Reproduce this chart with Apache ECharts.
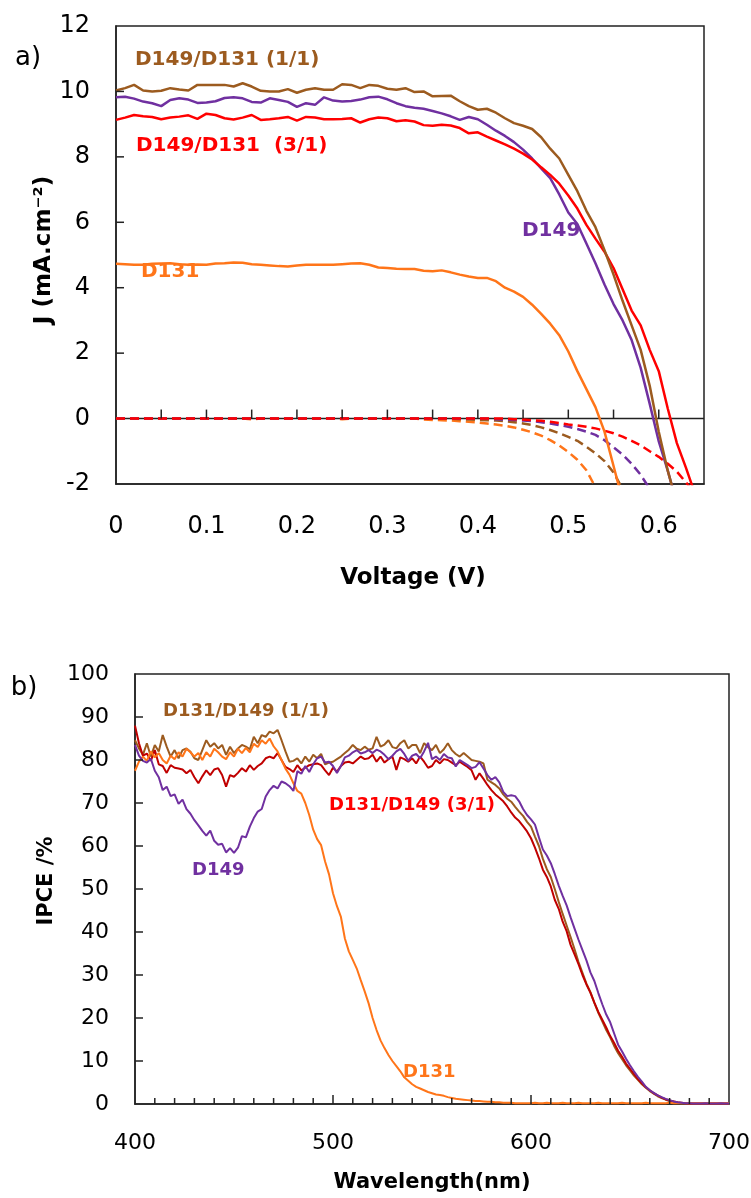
<!DOCTYPE html>
<html>
<head>
<meta charset="utf-8">
<script src="https://cdn.jsdelivr.net/npm/echarts@6/dist/echarts.min.js"></script>
<style>
  html,body{margin:0;padding:0;background:#fff;}
  #main{width:751px;height:1198px;}
</style>
</head>
<body>
<div id="main"></div>
<script>
// a) J-V 曲线, 电压 0 ~ 0.65 V, 步长 0.01
var volt = [0,0.01,0.02,0.03,0.04,0.05,0.06,0.07,0.08,0.09,
  0.10,0.11,0.12,0.13,0.14,0.15,0.16,0.17,0.18,0.19,
  0.20,0.21,0.22,0.23,0.24,0.25,0.26,0.27,0.28,0.29,
  0.30,0.31,0.32,0.33,0.34,0.35,0.36,0.37,0.38,0.39,
  0.40,0.41,0.42,0.43,0.44,0.45,0.46,0.47,0.48,0.49,
  0.50,0.51,0.52,0.53,0.54,0.55,0.56,0.57,0.58,0.59,
  0.60,0.61,0.62,0.63,0.64,0.65]

// 光照下 (实线)
var jMix11 = [10.03,10.10,10.20,10.03,10.00,10.02,10.10,10.06,10.03,10.20,
  10.20,10.20,10.20,10.15,10.25,10.15,10.02,10.00,10.00,10.07,
  9.96,10.05,10.10,10.05,10.05,10.22,10.20,10.10,10.20,10.17,
  10.08,10.05,10.10,9.98,10.00,9.85,9.86,9.87,9.70,9.55,
  9.44,9.47,9.35,9.18,9.03,8.95,8.85,8.60,8.25,7.95,
  7.45,6.95,6.35,5.85,5.15,4.40,3.60,2.85,2.10,1.00,
  -0.40,-1.60,-2.60]
var jD149 = [9.82,9.84,9.78,9.69,9.64,9.55,9.74,9.79,9.75,9.65,
  9.66,9.70,9.80,9.82,9.79,9.68,9.66,9.79,9.74,9.68,
  9.53,9.64,9.59,9.82,9.72,9.69,9.71,9.75,9.82,9.84,
  9.76,9.64,9.55,9.50,9.47,9.40,9.33,9.24,9.13,9.22,
  9.15,8.98,8.80,8.64,8.45,8.22,7.95,7.65,7.35,6.85,
  6.30,5.95,5.35,4.75,4.10,3.50,3.00,2.40,1.55,0.45,
  -0.70,-1.60,-2.60]
var jMix31 = [9.13,9.20,9.28,9.24,9.22,9.15,9.20,9.23,9.27,9.16,
  9.32,9.28,9.18,9.14,9.20,9.28,9.13,9.15,9.18,9.22,
  9.11,9.22,9.20,9.15,9.15,9.16,9.18,9.05,9.15,9.20,
  9.18,9.09,9.12,9.08,8.97,8.95,8.98,8.96,8.88,8.72,
  8.75,8.62,8.50,8.38,8.25,8.10,7.92,7.68,7.45,7.18,
  6.82,6.42,5.92,5.50,5.10,4.60,3.95,3.30,2.85,2.10,
  1.45,0.30,-0.75,-1.50,-2.30]
var jD131 = [4.73,4.72,4.70,4.70,4.73,4.74,4.75,4.72,4.70,4.71,
  4.70,4.74,4.75,4.77,4.76,4.72,4.70,4.68,4.66,4.65,
  4.68,4.70,4.70,4.70,4.70,4.72,4.74,4.75,4.70,4.62,
  4.60,4.58,4.57,4.57,4.52,4.50,4.53,4.47,4.40,4.34,
  4.30,4.30,4.20,4.00,3.88,3.72,3.48,3.20,2.90,2.55,
  2.05,1.45,0.90,0.35,-0.40,-1.45,-2.50]

// 暗态 (虚线)
var dMix11 = [0,0,0,0,0,0,0,0,0,0,
  0,0,0,0,0,0,0,0,0,0,
  0,0,0,0,0,0,0,0,0,0,
  0,0,0,0,0,0,0,0,-0.02,-0.03,
  -0.04,-0.05,-0.06,-0.08,-0.11,-0.15,-0.20,-0.27,-0.35,-0.45,
  -0.56,-0.68,-0.86,-1.06,-1.30,-1.65,-2.15]
var dD149 = [0,0,0,0,0,0,0,0,0,0,
  0,0,0,0,0,0,0,0,0,0,
  0,0,0,0,0,0,0,0,0,0,
  0,0,0,0,0,0,0,0,0,0,
  0,0,-0.02,-0.03,-0.04,-0.06,-0.08,-0.11,-0.15,-0.20,
  -0.25,-0.32,-0.40,-0.50,-0.66,-0.88,-1.10,-1.38,-1.72,-2.15]
var dMix31 = [0,0,0,0,0,0,0,0,0,0,
  0,0,0,0,0,0,0,0,0,0,
  0,0,0,0,0,0,0,0,0,0,
  0,0,0,0,0,0,0,0,0,0,
  0,0,0,0,-0.02,-0.03,-0.05,-0.07,-0.10,-0.14,
  -0.18,-0.21,-0.25,-0.30,-0.37,-0.45,-0.55,-0.68,-0.82,-1.00,
  -1.17,-1.38,-1.62,-1.95,-2.30]
var dD131 = [0,0,0,0,0,0,0,0,0,0,
  0,0,0,0,0,-0.02,0,0,0,0,
  0,0,0,0,0,-0.02,0,0,0,0,
  0,0,0,0,-0.03,-0.04,-0.05,-0.06,-0.08,-0.10,
  -0.12,-0.15,-0.18,-0.22,-0.27,-0.34,-0.42,-0.52,-0.66,-0.82,
  -1.02,-1.26,-1.58,-2.10]

// b) IPCE, 400 ~ 700 nm, 步长 2 nm
var wl = [400,402,404,406,408,410,412,414,416,418,
  420,422,424,426,428,430,432,434,436,438,
  440,442,444,446,448,450,452,454,456,458,
  460,462,464,466,468,470,472,474,476,478,
  480,482,484,486,488,490,492,494,496,498,
  500,502,504,506,508,510,512,514,516,518,
  520,522,524,526,528,530,532,534,536,538,
  540,542,544,546,548,550,552,554,556,558,
  560,562,564,566,568,570,572,574,576,578,
  580,582,584,586,588,590,592,594,596,598,
  600,602,604,606,608,610,612,614,616,618,
  620,622,624,626,628,630,632,634,636,638,
  640,642,644,646,648,650,652,654,656,658,
  660,662,664,666,668,670,672,674,676,678,
  680,682,684,686,688,690,692,694,696,698,
  700]
var ipceMix11 = [84.6,82.7,81.2,83.9,80.8,83.5,82.0,85.8,83.1,80.8,
  82.3,80.4,82.3,82.7,81.9,80.4,80.0,82.3,84.6,83.1,
  83.9,82.7,83.5,81.2,83.1,81.6,82.7,83.5,83.1,82.5,
  85.4,83.9,85.8,85.4,86.6,86.2,87.0,84.6,82.0,79.6,
  79.8,80.4,79.2,80.8,79.6,81.2,80.4,81.4,79.0,79.4,
  79.6,80.2,80.8,81.6,82.4,83.5,82.6,82.3,83.1,82.4,
  82.7,85.4,83.1,83.6,84.6,83.0,82.7,83.9,84.6,82.7,
  83.5,83.5,81.6,83.9,83.0,82.3,83.5,81.6,82.5,83.9,
  82.3,81.4,80.8,81.6,80.8,80.0,79.8,79.6,79.2,75.4,
  74.8,74.2,73.4,72.0,71.0,70.3,69.1,68.0,67.0,65.6,
  64.5,62.2,60.0,57.0,54.6,52.8,50.0,47.0,44.2,41.5,
  38.8,36.0,33.0,30.5,28.0,26.0,23.5,21.2,19.2,17.2,
  15.5,13.5,11.8,10.4,9.0,7.8,6.6,5.6,4.6,3.8,
  3.0,2.4,1.8,1.4,1.0,0.7,0.5,0.3,0.2,0.2,
  0.1,0.1,0.1,0.1,0.1,0.1,0.1,0.1,0.1,0.1,
  0.1]
var ipceMix31 = [88.0,83.9,81.0,81.5,79.8,82.3,79.0,78.6,77.0,78.8,
  78.2,78.0,77.8,76.9,77.7,76.0,74.6,76.2,77.6,76.5,
  77.8,78.1,76.5,73.8,76.5,76.1,77.0,78.1,77.3,78.8,
  77.7,78.6,79.2,80.4,80.8,80.4,81.6,80.0,78.4,77.9,
  77.2,78.8,77.6,78.2,78.8,79.0,79.2,78.8,77.6,76.5,
  78.2,77.3,78.6,79.4,79.6,79.2,80.0,80.8,80.2,80.4,
  81.2,79.6,80.8,79.4,80.2,80.8,77.7,80.6,80.2,79.6,
  80.4,79.2,80.8,79.6,78.2,78.6,80.0,79.2,80.2,80.0,
  79.4,78.8,79.6,79.0,78.4,77.6,75.4,76.9,75.6,74.2,
  73.0,72.0,71.2,70.4,69.2,67.8,66.6,65.8,64.6,63.4,
  61.8,59.6,57.2,54.5,52.8,50.6,47.5,45.4,42.4,40.2,
  37.0,34.8,32.5,30.0,27.8,25.9,23.6,21.4,19.6,17.8,
  15.8,14.2,12.4,11.0,9.4,8.2,7.0,5.8,4.8,3.9,
  3.2,2.5,2.0,1.5,1.1,0.8,0.6,0.4,0.3,0.2,
  0.1,0.1,0.1,0.1,0.1,0.1,0.1,0.1,0.1,0.1,
  0.1]
var ipceD131 = [77.5,79.6,80.8,79.8,82.0,80.6,81.6,80.0,79.2,81.0,
  80.2,81.8,80.8,82.6,81.8,80.8,81.6,80.0,81.8,80.8,
  82.6,81.8,80.8,80.2,81.8,80.8,82.6,81.6,82.8,81.8,
  83.8,83.0,84.6,83.8,85.0,83.2,82.0,80.0,78.0,76.6,
  74.6,72.8,72.2,70.0,67.2,63.8,61.6,60.2,56.4,53.4,
  49.0,46.0,43.5,38.5,35.5,33.5,31.5,28.8,26.2,23.4,
  20.0,17.2,14.8,13.0,11.4,10.0,8.8,7.6,6.2,5.4,
  4.6,4.0,3.6,3.2,2.8,2.5,2.2,2.1,1.9,1.6,
  1.4,1.2,1.1,1.0,0.9,0.8,0.7,0.7,0.6,0.5,
  0.5,0.4,0.4,0.3,0.3,0.3,0.2,0.2,0.2,0.2,
  0.2,0.3,0.2,0.2,0.3,0.2,0.2,0.2,0.3,0.2,
  0.2,0.2,0.3,0.2,0.2,0.2,0.2,0.3,0.2,0.2,
  0.2,0.2,0.2,0.3,0.2,0.2,0.2,0.2,0.2,0.3,
  0.2,0.2,0.2,0.2,0.2,0.3,0.2,0.2,0.2,0.2,
  0.2,0.2,0.2,0.2,0.2,0.2,0.2,0.2,0.2,0.2,
  0.2]
var ipceD149 = [83.5,81.0,79.8,79.4,80.3,77.5,76.0,73.0,73.8,71.6,
  72.0,69.8,70.8,68.6,67.5,66.0,64.8,63.5,62.4,63.6,
  61.2,60.3,60.5,58.5,59.5,58.4,59.6,62.3,62.0,64.5,
  66.5,68.0,68.6,71.5,73.0,74.0,73.4,75.0,74.6,73.9,
  72.8,77.4,76.8,78.6,77.2,79.0,80.4,80.8,79.4,79.6,
  78.6,77.0,78.6,80.6,81.0,81.8,82.3,81.5,81.8,82.3,
  81.6,82.4,82.0,81.2,80.2,81.0,82.0,82.6,81.4,79.8,
  81.0,81.4,80.4,82.0,84.0,80.2,80.8,80.0,81.4,80.6,
  80.4,78.5,80.0,79.4,78.8,78.1,78.4,79.5,78.0,76.5,
  75.4,76.0,74.8,72.6,71.6,71.8,71.6,70.4,68.6,67.2,
  66.2,65.0,62.0,59.2,57.8,56.0,53.5,50.8,48.4,46.2,
  43.4,40.8,38.2,35.8,33.4,30.6,28.6,25.8,23.2,20.8,
  19.0,16.4,13.8,12.2,10.5,9.0,7.6,6.3,5.2,4.0,
  3.2,2.6,2.0,1.6,1.2,0.9,0.6,0.4,0.3,0.2,
  0.2,0.1,0.1,0.1,0.2,0.1,0.1,0.1,0.2,0.1,
  0.1]

// 刻度位置
var voltTicks = [0.05,0.1,0.15,0.2,0.25,0.3,0.35,0.4,0.45,0.5,0.55,0.6]
var jTicks = [2,4,6,8,10]
var wlTicks = [410,420,430,440,450,460,470,480,490,500,510,520,530,540,550,560,570,580,590,
  600,610,620,630,640,650,660,670,680,690]
var ipceTicks = [10,20,30,40,50,60,70,80,90]

var cBrown = '#9C5B1F', cPurple = '#7030A0', cRed = '#FF0000', cDarkRed = '#C00000', cOrange = '#FF7519'
var FONT = "'DejaVu Sans', sans-serif"
var frame = '#222'
var lineSt = { color: frame, width: 1.5 }

function pairs(xs, ys) {
  return ys.map(function (y, i) { return [xs[i], y] })
}
function line(name, xi, yi, xs, ys, color, width, dashed) {
  return {
    name: name, type: 'line', xAxisIndex: xi, yAxisIndex: yi,
    data: pairs(xs, ys), symbol: 'none', clip: true, silent: true,
    lineStyle: { color: color, width: width, type: dashed ? [9, 5] : 'solid' }
  }
}
function label(text, x, y, color, size) {
  return { type: 'text', x: x, y: y, z: 100,
    style: { text: text, fill: color, fontSize: size, fontWeight: 'bold', fontFamily: FONT,
      align: 'left', textAlign: 'left', verticalAlign: 'middle', textVerticalAlign: 'middle' } }
}
function title(text, x, y, size, rotate, weight) {
  return { type: 'text', x: x, y: y, rotation: rotate ? Math.PI / 2 : 0, z: 100,
    style: { text: text, fill: '#000', fontSize: size, fontWeight: weight || 'bold', fontFamily: FONT,
      align: 'center', textAlign: 'center', verticalAlign: 'middle', textVerticalAlign: 'middle' } }
}

var chart = echarts.init(document.getElementById('main'))
var option = {
  animation: false,
  backgroundColor: '#fff',
  grid: [
    { left: 116, top: 26, width: 588, height: 458, show: true, borderColor: frame, borderWidth: 1.5, backgroundColor: 'transparent', outerBoundsMode: 'none' },
    { left: 135, top: 674, width: 594, height: 430, show: true, borderColor: frame, borderWidth: 1.5, backgroundColor: 'transparent', outerBoundsMode: 'none' }
  ],
  xAxis: [
    { type: 'value', gridIndex: 0, min: 0, max: 0.65, interval: 0.1, position: 'bottom',
      axisLine: { show: true, onZero: false, lineStyle: lineSt }, axisTick: { show: false }, splitLine: { show: false },
      axisLabel: { margin: 31, fontSize: 24, fontFamily: FONT, color: '#000', showMaxLabel: false } },
    { type: 'value', gridIndex: 1, min: 400, max: 700, interval: 100, position: 'bottom',
      axisLine: { show: true, onZero: false, lineStyle: lineSt }, axisTick: { show: false }, splitLine: { show: false },
      axisLabel: { margin: 28, fontSize: 22, fontFamily: FONT, color: '#000' } }
  ],
  yAxis: [
    { type: 'value', gridIndex: 0, min: -2, max: 12, interval: 2,
      axisLine: { show: true, onZero: false, lineStyle: lineSt }, axisTick: { show: false }, splitLine: { show: false },
      axisLabel: { margin: 26, fontSize: 24, fontFamily: FONT, color: '#000' } },
    { type: 'value', gridIndex: 1, min: 0, max: 100, interval: 10,
      axisLine: { show: true, onZero: false, lineStyle: lineSt }, axisTick: { show: false }, splitLine: { show: false },
      axisLabel: { margin: 26, fontSize: 22, fontFamily: FONT, color: '#000' } }
  ],
  series: [
    line('D131 dark', 0, 0, volt, dD131, cOrange, 2.5, true),
    line('D149/D131 (1/1) dark', 0, 0, volt, dMix11, cBrown, 2.5, true),
    line('D149 dark', 0, 0, volt, dD149, cPurple, 2.5, true),
    line('D149/D131 (3/1) dark', 0, 0, volt, dMix31, cRed, 2.5, true),
    line('D131', 0, 0, volt, jD131, cOrange, 2.5),
    line('D149', 0, 0, volt, jD149, cPurple, 2.5),
    line('D149/D131 (3/1)', 0, 0, volt, jMix31, cRed, 2.5),
    line('D149/D131 (1/1)', 0, 0, volt, jMix11, cBrown, 2.5),

    line('D131/D149 (1/1)', 1, 1, wl, ipceMix11, cBrown, 2),
    line('D131/D149 (3/1)', 1, 1, wl, ipceMix31, cDarkRed, 2),
    line('D131 ipce', 1, 1, wl, ipceD131, cOrange, 2),
    line('D149 ipce', 1, 1, wl, ipceD149, cPurple, 2)
  ],
  graphic: [
    title('a)', 28, 58, 26, false, 'normal'),
    title('b)', 24, 688, 26, false, 'normal'),
    title('J (mA.cm⁻²)', 44, 250, 23, true),
    title('Voltage (V)', 413, 578, 23, false),
    title('IPCE /%', 47, 881, 21, true),
    title('Wavelength(nm)', 432, 1183, 21, false),

    label('D149/D131 (1/1)', 135, 60, cBrown, 20),
    label('D149/D131  (3/1)', 136, 146, cRed, 20),
    label('D149', 522, 231, cPurple, 20),
    label('D131', 141, 272, cOrange, 20),

    label('D131/D149 (1/1)', 163, 711, cBrown, 18),
    label('D131/D149 (3/1)', 329, 805, cRed, 18),
    label('D149', 192, 870, cPurple, 18),
    label('D131', 403, 1072, cOrange, 18)
  ]
}
chart.setOption(option)

// J = 0 横线 (压在曲线下面) 和各轴刻度, 位置由坐标轴换算
var marks = []
function seg(p, dx, dy) {
  marks.push({ type: 'line', z: 60, silent: true,
    shape: { x1: p[0], y1: p[1], x2: p[0] + dx, y2: p[1] + dy },
    style: { stroke: frame, lineWidth: 1.5 } })
}
var gA = { xAxisIndex: 0, yAxisIndex: 0 }, gB = { xAxisIndex: 1, yAxisIndex: 1 }
var z0 = chart.convertToPixel(gA, [0, 0]), z1 = chart.convertToPixel(gA, [0.65, 0])
marks.push({ type: 'line', z: 0, silent: true, shape: { x1: z0[0], y1: z0[1], x2: z1[0], y2: z1[1] }, style: { stroke: frame, lineWidth: 1.5 } })
voltTicks.forEach(function (v) { seg(chart.convertToPixel(gA, [v, 0]), 0, -9) })
jTicks.forEach(function (v) { seg(chart.convertToPixel(gA, [0, v]), 8, 0) })
wlTicks.forEach(function (v) { seg(chart.convertToPixel(gB, [v, 0]), 0, v % 100 === 0 ? -9 : -6) })
ipceTicks.forEach(function (v) { seg(chart.convertToPixel(gB, [400, v]), 8, 0) })
chart.setOption({ graphic: option.graphic.concat(marks) })
</script>
</body>
</html>
